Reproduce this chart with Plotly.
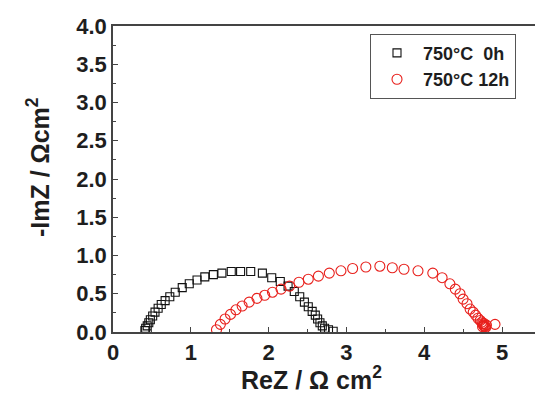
import plotly.graph_objects as go

# Nyquist data, Z in ohm cm^2
re_0h = [0.41, 0.42, 0.44, 0.46, 0.48, 0.51, 0.54, 0.58, 0.62, 0.67, 0.73, 0.80,
         0.89, 0.98, 1.08, 1.18, 1.29, 1.40, 1.52, 1.64, 1.77, 1.92, 2.04, 2.15,
         2.25, 2.33, 2.40, 2.46, 2.51, 2.56, 2.60, 2.63, 2.66, 2.69, 2.72, 2.77, 2.83]
im_0h = [0.02, 0.05, 0.08, 0.12, 0.16, 0.21, 0.26, 0.31, 0.36, 0.41, 0.46, 0.52,
         0.58, 0.63, 0.68, 0.72, 0.75, 0.77, 0.79, 0.79, 0.79, 0.77, 0.71, 0.66,
         0.60, 0.53, 0.46, 0.39, 0.33, 0.27, 0.22, 0.17, 0.12, 0.08, 0.05, 0.03, 0.01]

re_12h = [1.33, 1.38, 1.44, 1.51, 1.58, 1.66, 1.75, 1.85, 1.95, 2.05, 2.16, 2.27,
          2.39, 2.51, 2.64, 2.78, 2.93, 3.08, 3.25, 3.43, 3.59, 3.74, 3.92, 4.11,
          4.23, 4.33, 4.40, 4.46, 4.50, 4.55, 4.59, 4.63, 4.66, 4.69, 4.72, 4.74,
          4.75, 4.76, 4.77, 4.78, 4.79, 4.80, 4.77, 4.75, 4.91]
im_12h = [0.03, 0.10, 0.17, 0.23, 0.29, 0.34, 0.39, 0.44, 0.48, 0.52, 0.56, 0.60,
          0.65, 0.69, 0.73, 0.77, 0.80, 0.83, 0.85, 0.86, 0.84, 0.82, 0.80, 0.77,
          0.71, 0.63, 0.56, 0.50, 0.43, 0.37, 0.30, 0.26, 0.22, 0.18, 0.15, 0.13,
          0.11, 0.09, 0.08, 0.07, 0.06, 0.09, 0.11, 0.07, 0.10]

label_0h = "750°C  0h"
label_12h = "750°C 12h"

x_ticks = [0, 1, 2, 3, 4, 5]
y_ticks = [0.0, 0.5, 1.0, 1.5, 2.0, 2.5, 3.0, 3.5, 4.0]

FONT = "Liberation Sans, Arial, sans-serif"
AXIS_COLOR = "#444444"
TEXT_COLOR = "#1e1e1e"

fig = go.Figure()
fig.add_trace(go.Scatter(
    x=re_0h, y=im_0h, mode="markers", name=label_0h,
    marker=dict(symbol="square-open", size=8, color="#111111",
                line=dict(width=1.1, color="#111111")),
))
fig.add_trace(go.Scatter(
    x=re_12h, y=im_12h, mode="markers", name=label_12h,
    marker=dict(symbol="circle-open", size=10, color="#e8201c",
                line=dict(width=1.1, color="#e8201c")),
))

fig.update_layout(
    width=535, height=397,
    margin=dict(l=113, r=0, t=26, b=65),
    paper_bgcolor="white", plot_bgcolor="white",
    font=dict(family=FONT, color=TEXT_COLOR),
    showlegend=True,
    legend=dict(
        x=0.609, y=0.975, xanchor="left", yanchor="top",
        bgcolor="white", bordercolor="#555555", borderwidth=1,
        font=dict(family=FONT, size=18, color=TEXT_COLOR, weight="bold"),
        itemwidth=42, tracegroupgap=0,
    ),
    xaxis=dict(
        range=[0, 5.424], tickvals=x_ticks, ticktext=[str(v) for v in x_ticks],
        showgrid=False, zeroline=False,
        showline=True, linecolor=AXIS_COLOR, linewidth=1.5, mirror=True,
        ticks="inside", ticklen=5, tickwidth=1, tickcolor=AXIS_COLOR,
        minor=dict(dtick=0.5, ticks="inside", ticklen=3, tickcolor=AXIS_COLOR),
        tickfont=dict(family=FONT, size=22, color=TEXT_COLOR, weight="bold"),
    ),
    yaxis=dict(
        range=[0, 4.0], tickvals=y_ticks, ticktext=[f"{v:.1f}" for v in y_ticks],
        showgrid=False, zeroline=False,
        showline=True, linecolor=AXIS_COLOR, linewidth=1.5, mirror=False,
        ticks="inside", ticklen=5, tickwidth=1, tickcolor=AXIS_COLOR,
        minor=dict(dtick=0.25, ticks="inside", ticklen=3, tickcolor=AXIS_COLOR),
        tickfont=dict(family=FONT, size=22, color=TEXT_COLOR, weight="bold"),
    ),
    annotations=[
        dict(text="ReZ / Ω cm<sup>2</sup>", xref="paper", yref="paper",
             x=(311 - 113) / 422, y=-(396 - 332) / 306, xanchor="center", yanchor="bottom",
             showarrow=False, font=dict(family=FONT, size=25, color=TEXT_COLOR, weight="bold")),
        dict(text="-ImZ / Ωcm<sup>2</sup>", xref="paper", yref="paper",
             x=-(113 - 38) / 422, y=(332 - 167) / 306, xanchor="center", yanchor="middle",
             textangle=-90, showarrow=False,
             font=dict(family=FONT, size=25, color=TEXT_COLOR, weight="bold")),
    ],
)

fig.write_html("out.html")
